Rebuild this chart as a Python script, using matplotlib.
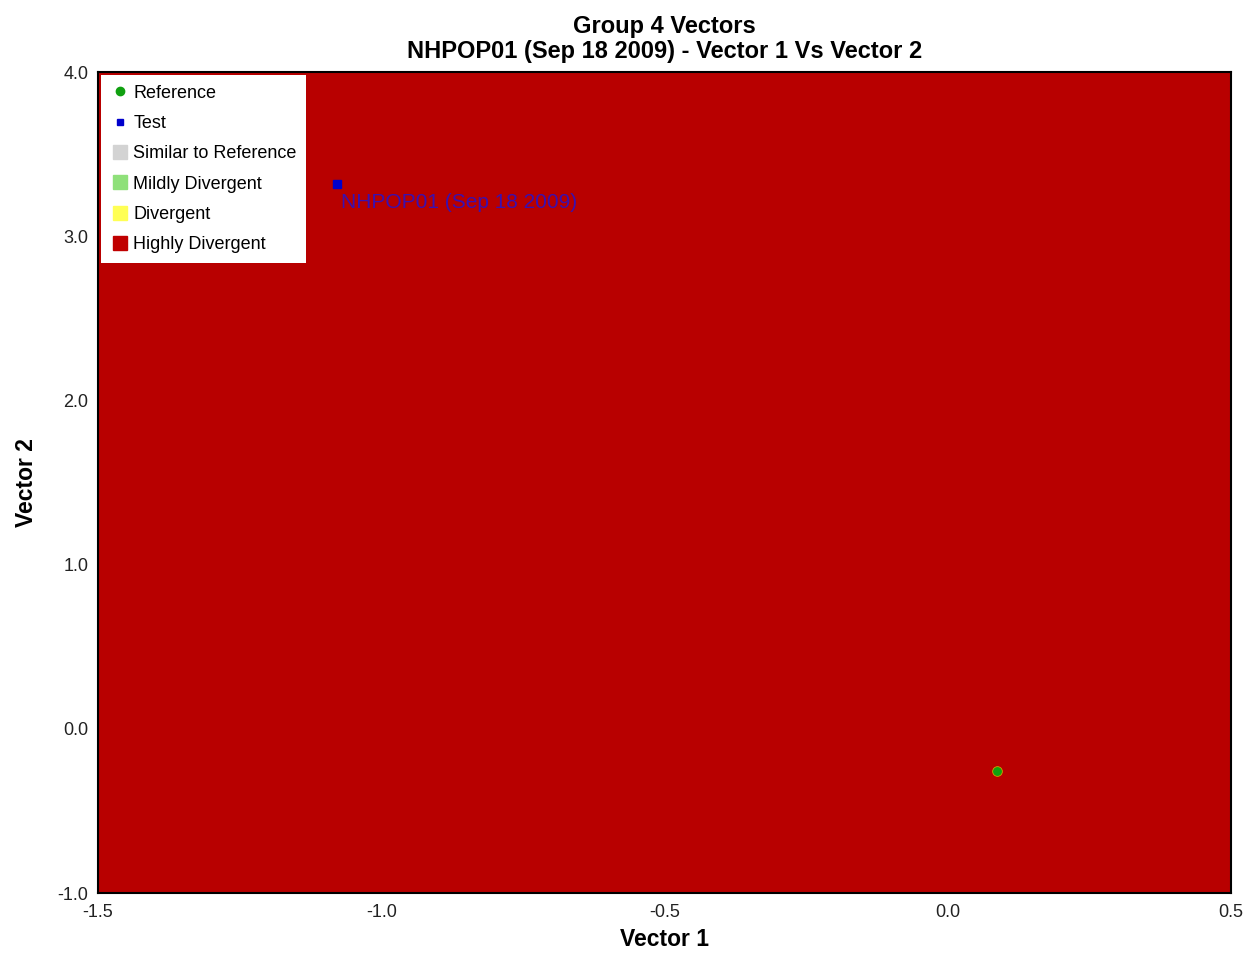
import matplotlib
matplotlib.use("Agg")
import matplotlib.pyplot as plt
from matplotlib.lines import Line2D

plt.rcParams['font.family'] = ['Liberation Sans', 'DejaVu Sans']

# data
ref_x = [0.087]
ref_y = [-0.257]
test_x = [-1.078]
test_y = [3.318]
test_label = "NHPOP01 (Sep 18 2009)"

legend_labels = ["Reference", "Test", "Similar to Reference",
                 "Mildly Divergent", "Divergent", "Highly Divergent"]
xticks = [-1.5, -1.0, -0.5, 0.0, 0.5]
yticks = [-1.0, 0.0, 1.0, 2.0, 3.0, 4.0]

bg = "#B80000"

fig = plt.figure(figsize=(12.51, 9.55), dpi=100)
ax = fig.add_axes([0.0783, 0.0649, 0.9057, 0.8597])
ax.set_facecolor(bg)
ax.set_xlim(-1.5, 0.5)
ax.set_ylim(-1.0, 4.0)

ax.plot(ref_x, ref_y, linestyle='', marker='o', markersize=7, color='#10A010',
        markeredgecolor='#D0A000', markeredgewidth=0.6)
ax.plot(test_x, test_y, linestyle='', marker='s', markersize=6, color='#0000CC')
ax.annotate(test_label, (test_x[0], test_y[0]), xytext=(3, -13.5),
            textcoords='offset points', color='#3A10B0', fontsize=15,
            va='center', ha='left')

ax.set_xticks(xticks)
ax.set_xticklabels(["%.1f" % v for v in xticks])
ax.set_yticks(yticks)
ax.set_yticklabels(["%.1f" % v for v in yticks])
ax.tick_params(length=0, labelsize=13, colors='#222222')
ax.tick_params(axis='x', pad=8)
ax.tick_params(axis='y', pad=7)
for s in ax.spines.values():
    s.set_linewidth(1.5)
    s.set_color('black')

ax.set_xlabel("Vector 1", fontsize=16.5, fontweight='bold', labelpad=5)
ax.set_ylabel("Vector 2", fontsize=16.5, fontweight='bold', labelpad=14)
ax.set_title("Group 4 Vectors\nNHPOP01 (Sep 18 2009) - Vector 1 Vs Vector 2",
             fontsize=17, fontweight='bold', pad=10, linespacing=1.1)

handles = [
    Line2D([], [], linestyle='', marker='o', markersize=6, color='#10A010'),
    Line2D([], [], linestyle='', marker='s', markersize=5, color='#0000CC'),
    Line2D([], [], linestyle='', marker='s', markersize=10, color='#D3D3D3'),
    Line2D([], [], linestyle='', marker='s', markersize=10, color='#8FE07A'),
    Line2D([], [], linestyle='', marker='s', markersize=10, color='#FFFF55'),
    Line2D([], [], linestyle='', marker='s', markersize=10, color='#C00000'),
]
leg = ax.legend(handles, legend_labels, loc='upper left', fontsize=13,
                frameon=True, fancybox=False, framealpha=1, edgecolor='white',
                borderaxespad=0.15, handletextpad=0.25, labelspacing=0.74,
                handlelength=1.0, borderpad=0.55)
leg.get_frame().set_linewidth(0)

fig.savefig("out.png", dpi=100)
